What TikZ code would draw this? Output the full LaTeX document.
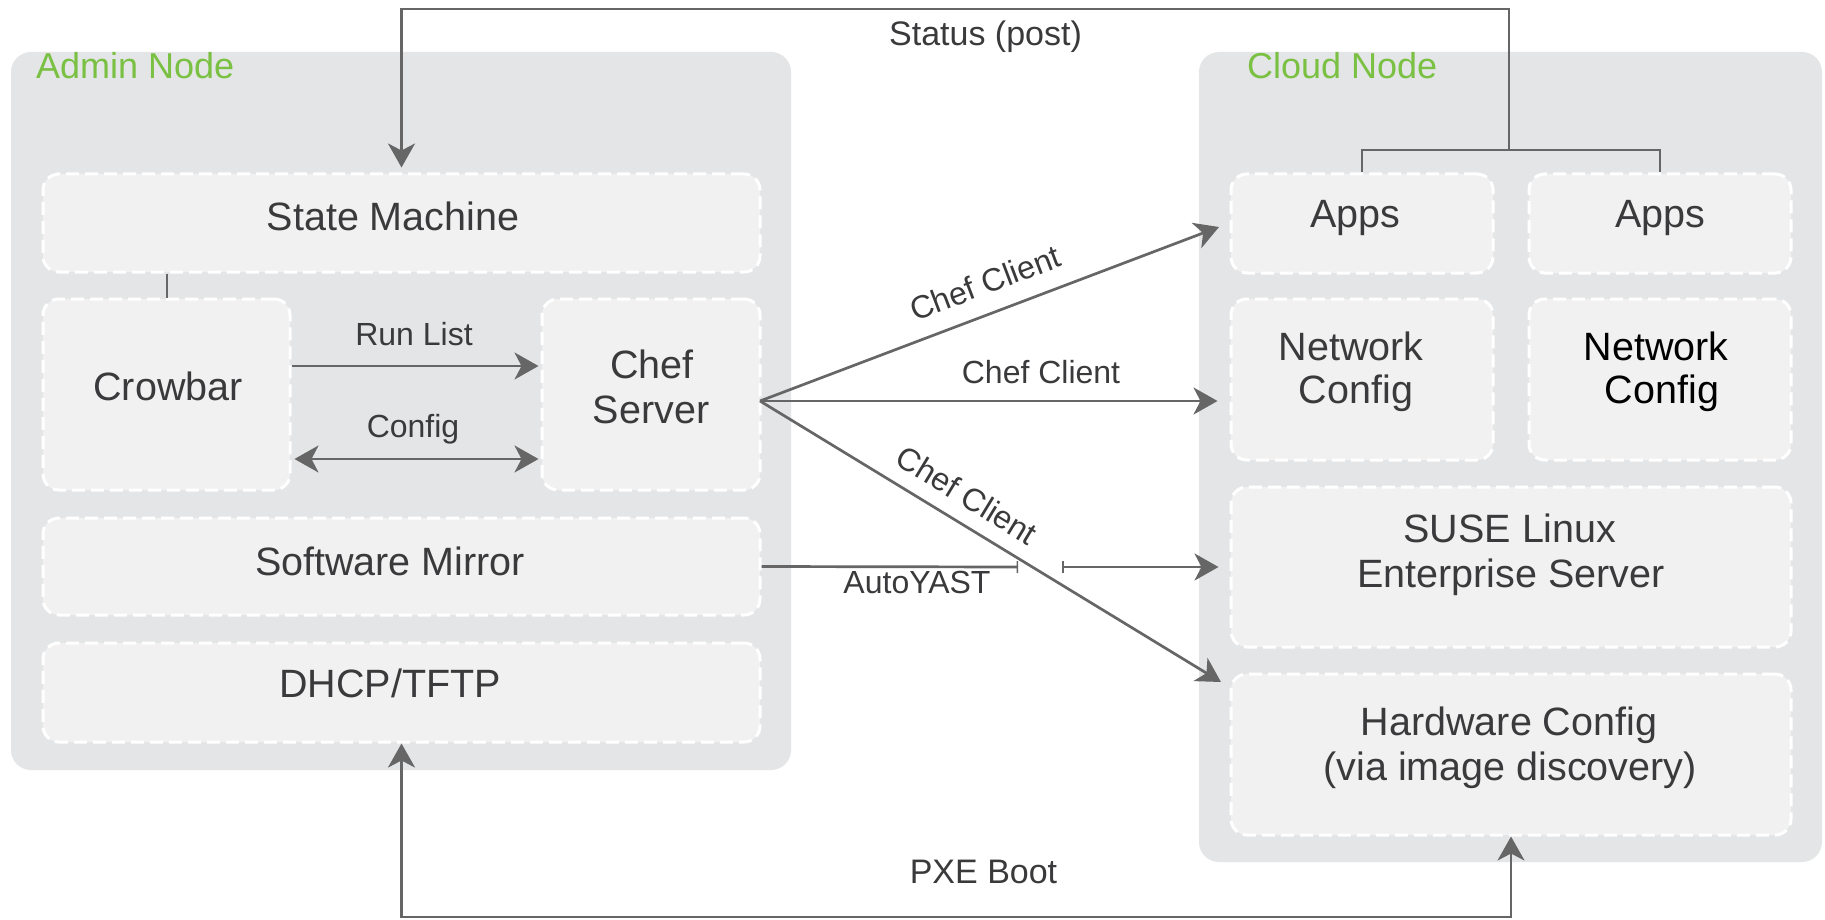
\documentclass[tikz,border=0pt]{standalone}
\usepackage{fontspec}
\setmainfont{Liberation Sans}
\usetikzlibrary{arrows.meta}
\definecolor{outerbg}{HTML}{E4E5E6}
\definecolor{innerbg}{HTML}{F1F1F1}
\definecolor{grn}{HTML}{7AC143}
\definecolor{txtc}{HTML}{3A3A3C}
\definecolor{lnc}{HTML}{666666}
\newcommand\bxfont{\fontsize{39.5}{44}\selectfont}
\newcommand\lblfont{\fontsize{32}{36}\selectfont}
\newcommand\bigfont{\fontsize{34}{38}\selectfont}
\newcommand\ttlfont{\fontsize{36}{40}\selectfont}
\begin{document}
\begin{tikzpicture}[x=1pt,y=-1pt,
  outerbox/.style={fill=outerbg, rounded corners=20pt, inner sep=0pt, draw=none},
  innerbox/.style={fill=innerbg, draw=white, line width=3pt, dash pattern=on 13pt off 6pt, rounded corners=16pt, inner sep=0pt},
  bt/.style={text=txtc, inner sep=0pt, anchor=base, font=\bxfont},
  lt/.style={text=txtc, inner sep=0pt, anchor=base, font=\lblfont},
  ttl/.style={text=grn, inner sep=0pt, anchor=base west, font=\ttlfont},
  conn/.style={draw=lnc, line width=2.7pt},
  thinln/.style={draw=lnc, line width=2pt},
  tip/.tip={Stealth[length=24pt, width=27pt, inset=7pt]},
]
\fill[white] (0,0) rectangle (1825,920);
\useasboundingbox (0,0) rectangle (1825,920);

% outer containers
\node[outerbox, minimum width=780pt, minimum height=718pt] (admin) at (401,411) {};
\node[outerbox, minimum width=623pt, minimum height=810pt] (cloud) at (1510.5,457) {};
\node[ttl] (admint) at (36,79) {Admin Node};
\node[ttl] (cloudt) at (1247,79) {Cloud Node};

% admin inner boxes
\node[innerbox, minimum width=717pt, minimum height=98pt] (sm) at (401.5,223) {};
\node[innerbox, minimum width=247pt, minimum height=191pt] (cb) at (166.5,394.5) {};
\node[innerbox, minimum width=218pt, minimum height=191pt] (cs) at (651,394.5) {};
\node[innerbox, minimum width=717pt, minimum height=97pt] (swm) at (401.5,566.5) {};
\node[innerbox, minimum width=717pt, minimum height=99pt] (dhcp) at (401.5,692.5) {};

% cloud inner boxes
\node[innerbox, minimum width=262pt, minimum height=99pt] (apps1) at (1362,223.5) {};
\node[innerbox, minimum width=262pt, minimum height=99pt] (apps2) at (1660,223.5) {};
\node[innerbox, minimum width=262pt, minimum height=161pt] (nc1) at (1362,379.5) {};
\node[innerbox, minimum width=262pt, minimum height=161pt] (nc2) at (1660,379.5) {};
\node[innerbox, minimum width=560pt, minimum height=160pt] (suse) at (1511,567) {};
\node[innerbox, minimum width=560pt, minimum height=161pt] (hw) at (1511,754.5) {};

% box texts
\node[bt] (smt) at (393,230) {State Machine};
\node[bt] (cbt) at (168,400) {Crowbar};
\node[bt] (cst1) at (652,378) {Chef};
\node[bt] (cst2) at (651,423) {Server};
\node[bt] (swmt) at (390,575) {Software Mirror};
\node[bt] (dhcpt) at (390,697) {DHCP/TFTP};
\node[bt] (apps1t) at (1355,227) {Apps};
\node[bt] (apps2t) at (1660,227) {Apps};
\node[bt] (nc1t1) at (1351,360) {Network};
\node[bt] (nc1t2) at (1356,403) {Config};
\node[bt, text=black] (nc2t1) at (1656,360) {Network};
\node[bt, text=black] (nc2t2) at (1662,403) {Config};
\node[bt] (suset1) at (1510,542) {SUSE Linux};
\node[bt] (suset2) at (1511,587) {Enterprise Server};
\node[bt] (hwt1) at (1509,735) {Hardware Config};
\node[bt] (hwt2) at (1510,780) {(via image discovery)};

% coordinates
\coordinate (brk) at (1509,150);
\coordinate (topc) at (1509,9);
\coordinate (cc) at (760,401);
\coordinate (t1) at (1219,227);
\coordinate (t3) at (1221,682);
\coordinate (ay1) at (1018,567);
\coordinate (ay2) at (1062,567);
\coordinate (pxe) at (0,917);

% status
\draw[thinln] (apps1.north) -- (apps1.north |- brk) -- (apps2.north |- brk) -- (apps2.north);
\draw[conn, -{tip}] (brk) -- (topc) -| ([yshift=5pt]sm.north);
\node[lt, font=\bigfont] (statust) at (985.5,46) {Status (post)};

% crowbar - state machine
\draw[thinln] (sm.south -| cb.north) -- (cb.north);

% run list / config
\draw[conn, -{tip}] ([yshift=28.5pt]cb.east) -- ([yshift=28.5pt,xshift=-2pt]cs.west);
\node[lt] (rlt) at (414,345) {Run List};
\draw[conn, {tip}-{tip}] ([yshift=-64.5pt,xshift=3pt]cb.east) -- ([yshift=-64.5pt,xshift=-2pt]cs.west);
\node[lt] (cfgt) at (413,437) {Config};

% chef client
\draw[conn, -{tip}] (cc) -- (t1);
\node[lt, anchor=center, rotate=20.76] (cc1t) at (985,283) {Chef Client};
\draw[conn, -{tip}] (cc) -- ([xshift=-12pt]cc -| nc1.west);
\node[lt] (cc2t) at (1041,383) {Chef Client};
\draw[conn, -{tip}] (cc) -- (t3);
\node[lt, anchor=center, rotate=-31.37] (cc3t) at (967,495) {Chef Client};

% autoyast
\draw[conn, -{Bar[width=12pt,line width=1.5pt]}] (swm.east) -- (ay1);
\draw[conn, {Bar[width=12pt,line width=1.5pt]}-{tip}] (ay2) -- ([xshift=-11pt]suse.west);
\node[lt] (ayt) at (917,593) {AutoYAST};

% pxe boot
\draw[conn, {tip}-{tip}] (dhcp.south) -- (dhcp.south |- pxe) -| (hw.south);
\node[lt, font=\bigfont] (pxet) at (983.5,883) {PXE Boot};
\end{tikzpicture}
\end{document}
